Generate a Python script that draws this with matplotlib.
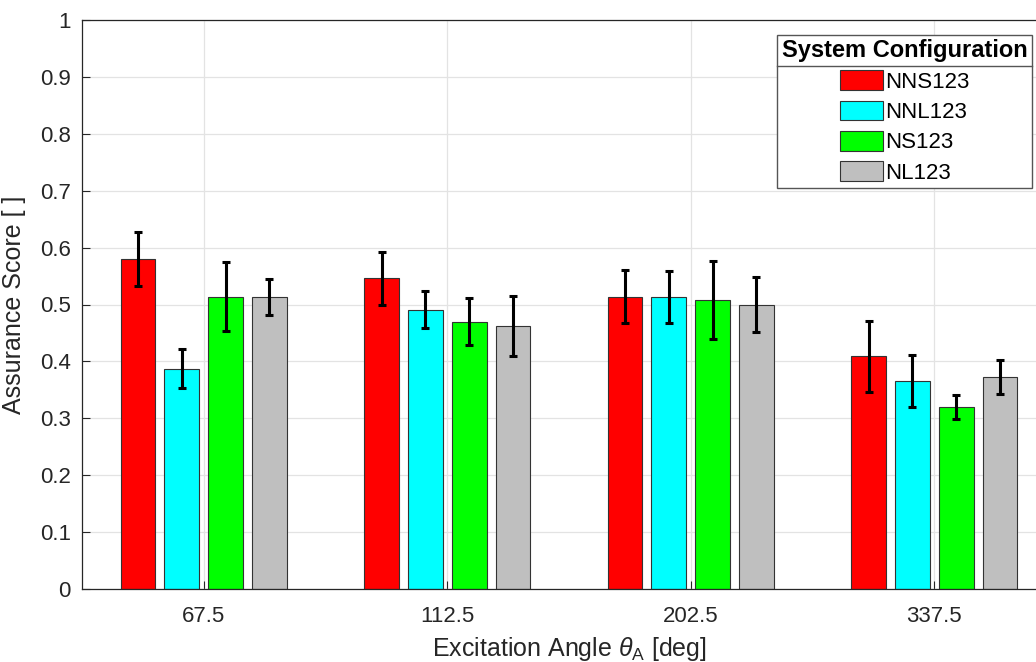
import matplotlib
matplotlib.use("Agg")
import matplotlib.pyplot as plt
import numpy as np
from matplotlib.lines import Line2D

plt.rcParams['font.family'] = ['Liberation Sans', 'DejaVu Sans']
plt.rcParams['mathtext.fontset'] = 'custom'
plt.rcParams['mathtext.rm'] = 'Liberation Sans'
plt.rcParams['mathtext.it'] = 'Liberation Sans:italic'

# data
angles = ['67.5', '112.5', '202.5', '337.5']
configs = ['NNS123', 'NNL123', 'NS123', 'NL123']
colors = ['#ff0000', '#00ffff', '#00ff00', '#bfbfbf']

score_nns = [0.580, 0.546, 0.514, 0.409]
score_nnl = [0.387, 0.491, 0.513, 0.366]
score_ns = [0.514, 0.470, 0.508, 0.320]
score_nl = [0.513, 0.462, 0.500, 0.373]

err_nns = [0.047, 0.047, 0.047, 0.062]
err_nnl = [0.034, 0.032, 0.045, 0.046]
err_ns = [0.060, 0.041, 0.068, 0.021]
err_nl = [0.031, 0.053, 0.048, 0.030]

scores = [score_nns, score_nnl, score_ns, score_nl]
errors = [err_nns, err_nnl, err_ns, err_nl]

txt = '#262626'

fig = plt.figure(figsize=(10.36, 6.62), dpi=100)
# axes runs past the right edge like the cropped original
ax = fig.add_axes([82 / 1036, 73 / 662, 974 / 1036, 569 / 662])

x = np.arange(1, len(angles) + 1)
step = 0.18
width = 0.143
for i, (cfg, col) in enumerate(zip(configs, colors)):
    pos = x + (i - 1.5) * step
    ax.bar(pos, scores[i], width, color=col, edgecolor='#333333',
           linewidth=0.8, label=cfg, zorder=2)
    ax.errorbar(pos, scores[i], yerr=errors[i], fmt='none', ecolor='k',
                elinewidth=2.2, capsize=3, capthick=2.2, zorder=3)

ax.set_xlim(0.5, 4.5)
ax.set_ylim(0, 1)
ax.set_xticks(x)
ax.set_xticklabels(angles)
yt = np.round(np.arange(0, 1.01, 0.1), 1)
ax.set_yticks(yt)
ax.set_yticklabels(['0'] + ['%.1f' % v for v in yt[1:-1]] + ['1'])
ax.tick_params(direction='in', length=6, width=0.8, labelsize=16,
               colors=txt, pad=8)
ax.tick_params(axis='x', pad=12)
ax.grid(True, color='#e3e3e3', linewidth=0.9, zorder=0)
ax.set_axisbelow(True)
for s in ax.spines.values():
    s.set_color(txt)
    s.set_linewidth(0.9)

ax.set_xlabel(r'Excitation Angle $\theta_{\rm A}$ [deg]', fontsize=18,
              color=txt, labelpad=6)
ax.set_ylabel('Assurance Score [ ]', fontsize=18, color=txt, labelpad=10)

leg = ax.legend(loc='upper right', bbox_to_anchor=(1032 / 1036, 1 - 35 / 662),
                bbox_transform=fig.transFigure, title='System Configuration',
                title_fontproperties={'weight': 'bold', 'size': 17},
                fontsize=16, fancybox=False, framealpha=1, edgecolor='#555555',
                handlelength=1.95, handleheight=1.0, handletextpad=0.1,
                labelspacing=0.35, borderpad=0.2, borderaxespad=0)
leg.get_frame().set_linewidth(1.0)

# separator line under the legend title
fig.canvas.draw()
fr = leg.get_frame().get_window_extent()
tb = leg.get_title().get_window_extent()
yline = tb.y0 - 4
fig.add_artist(Line2D([fr.x0 / 1036, fr.x1 / 1036], [yline / 662, yline / 662],
                      transform=fig.transFigure, color='#555555', lw=1.0))

plt.savefig('out.png', dpi=100)
